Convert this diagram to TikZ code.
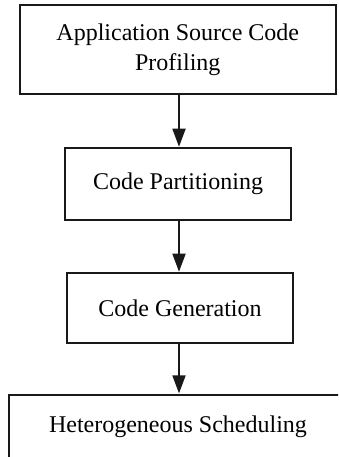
\documentclass[tikz,border=0pt]{standalone}
\usepackage{fontspec}
\setmainfont{Liberation Serif}
\usetikzlibrary{arrows.meta}
\begin{document}
\begin{tikzpicture}[x=1pt,y=-1pt,
  stepbox/.style={draw=black!90, line width=2pt, rectangle, inner sep=0pt,
    align=center, font=\fontsize{24}{30}\selectfont},
  flow/.style={draw=black!90, line width=1.8pt,
    -{Triangle[length=18pt,width=13pt]}, shorten >=0.6pt}]
  \useasboundingbox (0,0) rectangle (338,457);
  \clip (0,0) rectangle (338,457);
  \fill[white] (0,0) rectangle (338,457);

  \node[stepbox, minimum width=316.5pt, minimum height=89pt] (prof) at (177.75,50)
    {Application Source Code\\Profiling};
  \node[stepbox, minimum width=226pt, minimum height=71.7pt] (part) at (178,184.2)
    {Code Partitioning};
  \node[stepbox, minimum width=226.6pt, minimum height=70pt] (gen) at (180,308.3)
    {Code Generation};
  \node[stepbox, minimum width=338pt, minimum height=63pt] (sched) at (178,426.5)
    {Heterogeneous Scheduling};

  \coordinate (ax) at (179,0);
  \draw[flow] (prof.south -| ax) -- (part.north -| ax);
  \draw[flow] (part.south -| ax) -- (gen.north -| ax);
  \draw[flow] (gen.south -| ax) -- (sched.north -| ax);
\end{tikzpicture}
\end{document}
